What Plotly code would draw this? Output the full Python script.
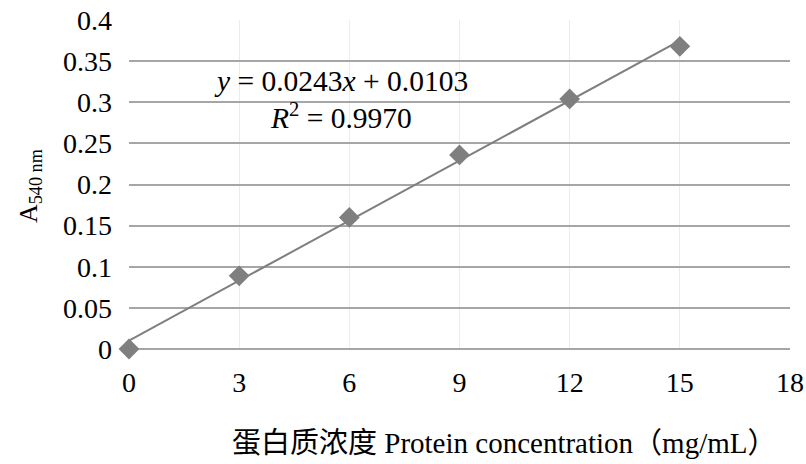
import plotly.graph_objects as go

conc = [0, 3, 6, 9, 12, 15]
absorb = [0.0, 0.089, 0.160, 0.236, 0.304, 0.368]
slope = 0.0243
intercept = 0.0103
x_ticks = [0, 3, 6, 9, 12, 15, 18]
y_ticks = [0, 0.05, 0.1, 0.15, 0.2, 0.25, 0.3, 0.35, 0.4]
y_tick_labels = ["0", "0.05", "0.1", "0.15", "0.2", "0.25", "0.3", "0.35", "0.4"]

fit_x = [conc[0], conc[-1]]
fit_y = [slope * v + intercept for v in fit_x]

font_fam = "Liberation Serif, Times New Roman, Noto Sans CJK SC, serif"
gray = "#7f7f7f"

fig = go.Figure()
fig.add_trace(go.Scatter(x=fit_x, y=fit_y, mode="lines",
                         line=dict(color=gray, width=2), showlegend=False,
                         hoverinfo="skip"))
fig.add_trace(go.Scatter(x=conc, y=absorb, mode="markers", cliponaxis=False,
                         marker=dict(symbol="diamond", size=16, color=gray),
                         showlegend=False))

L, R, T, B = 129, 16, 20, 115
fig.update_layout(
    width=806, height=464,
    margin=dict(l=L, r=R, t=T, b=B, autoexpand=False),
    paper_bgcolor="white", plot_bgcolor="white",
    font=dict(family=font_fam, size=28, color="black"),
    xaxis=dict(range=[0, 18], tickvals=x_ticks, ticktext=[str(t) for t in x_ticks],
               showgrid=True, gridcolor="#ececec", gridwidth=1,
               zeroline=False, showline=False, ticks="",
               tickfont=dict(size=28), ticklabelstandoff=14, automargin=False),
    yaxis=dict(range=[0, 0.4], tickvals=y_ticks, ticktext=y_tick_labels,
               showgrid=True, gridcolor="#a6a6a6", gridwidth=1.5,
               zeroline=True, zerolinecolor="#a6a6a6", zerolinewidth=1.5,
               showline=False, ticks="", tickfont=dict(size=28),
               ticklabelstandoff=16, automargin=False),
)

pw = 806 - L - R
ph = 464 - T - B
fig.add_annotation(x=(341 - L) / pw, y=(464 - B - 81) / ph, xref="paper", yref="paper",
                   text="<i>y</i> = 0.0243<i>x</i> + 0.0103", showarrow=False,
                   font=dict(size=29.5), xanchor="center", yanchor="middle")
fig.add_annotation(x=(341 - L) / pw, y=(464 - B - 116) / ph, xref="paper", yref="paper",
                   text="<i>R</i><sup>2</sup> = 0.9970", showarrow=False,
                   font=dict(size=29.5), xanchor="center", yanchor="middle")
# axis titles
fig.add_annotation(x=(504 - L) / pw, y=(464 - B - 443) / ph, xref="paper", yref="paper",
                   text="蛋白质浓度 Protein concentration（mg/mL）", showarrow=False,
                   font=dict(size=29), xanchor="center", yanchor="middle")
fig.add_annotation(x=(30 - L) / pw, y=(464 - B - 186) / ph, xref="paper", yref="paper",
                   text="A<sub>540 nm</sub>", showarrow=False, textangle=-90,
                   font=dict(size=26), xanchor="center", yanchor="middle")

fig.write_html("out.html", config={"displayModeBar": False},
               post_script="document.body.style.margin='0';document.body.style.overflow='hidden';")
